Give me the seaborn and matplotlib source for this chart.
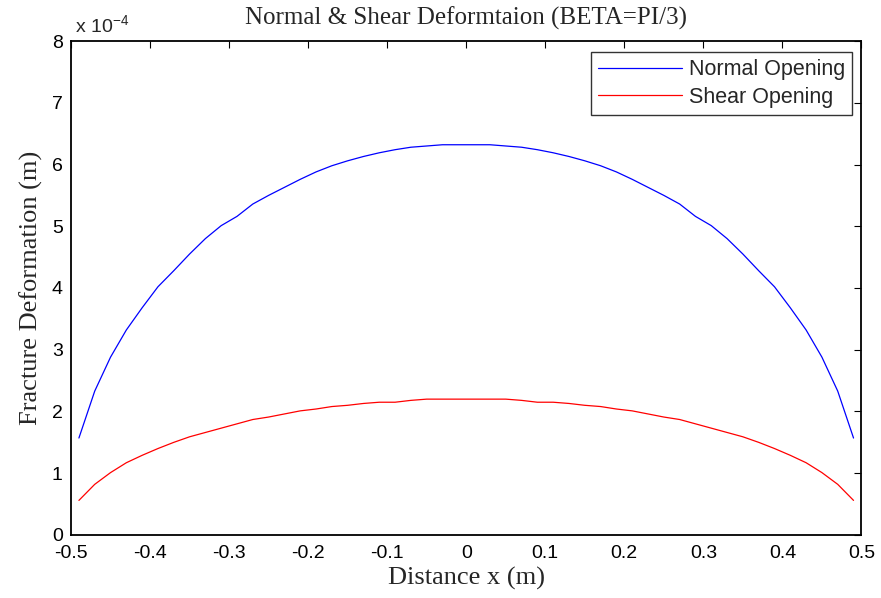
import matplotlib
matplotlib.use("Agg")
import matplotlib.pyplot as plt
import seaborn as sns
import pandas as pd

# element centres along the fracture (m)
distance = [
    -0.49, -0.47, -0.45, -0.43, -0.41, -0.39, -0.37, -0.35, -0.33, -0.31,
    -0.29, -0.27, -0.25, -0.23, -0.21, -0.19, -0.17, -0.15, -0.13, -0.11,
    -0.09, -0.07, -0.05, -0.03, -0.01, 0.01, 0.03, 0.05, 0.07, 0.09,
    0.11, 0.13, 0.15, 0.17, 0.19, 0.21, 0.23, 0.25, 0.27, 0.29,
    0.31, 0.33, 0.35, 0.37, 0.39, 0.41, 0.43, 0.45, 0.47, 0.49,
]

# openings in units of 1e-4 m
normal_opening = [
    1.57, 2.33, 2.88, 3.32, 3.68, 4.02, 4.28, 4.55, 4.80, 5.01,
    5.16, 5.36, 5.50, 5.63, 5.76, 5.88, 5.98, 6.06, 6.13, 6.19,
    6.24, 6.28, 6.30, 6.32, 6.32, 6.32, 6.32, 6.30, 6.28, 6.24,
    6.19, 6.13, 6.06, 5.98, 5.88, 5.76, 5.63, 5.50, 5.36, 5.16,
    5.01, 4.80, 4.55, 4.28, 4.02, 3.68, 3.32, 2.88, 2.33, 1.57,
]
shear_opening = [
    0.56, 0.82, 1.01, 1.17, 1.29, 1.40, 1.50, 1.59, 1.66, 1.73,
    1.80, 1.87, 1.91, 1.96, 2.01, 2.04, 2.08, 2.10, 2.13, 2.15,
    2.15, 2.18, 2.20, 2.20, 2.20, 2.20, 2.20, 2.20, 2.18, 2.15,
    2.15, 2.13, 2.10, 2.08, 2.04, 2.01, 1.96, 1.91, 1.87, 1.80,
    1.73, 1.66, 1.59, 1.50, 1.40, 1.29, 1.17, 1.01, 0.82, 0.56,
]

df = pd.DataFrame({
    "x": distance * 2,
    "opening": normal_opening + shear_opening,
    "series": ["Normal Opening"] * len(distance) + ["Shear Opening"] * len(distance),
})

sns.set_style("white")
plt.rcParams["font.family"] = ["Liberation Sans", "DejaVu Sans"]

fig = plt.figure(figsize=(8.81, 5.98), dpi=100)
ax = fig.add_axes([0.0806, 0.1054, 0.8972, 0.8260])
sns.lineplot(data=df, x="x", y="opening", hue="series",
             palette={"Normal Opening": "#0000ff", "Shear Opening": "#ff0000"},
             linewidth=0.9, ax=ax)

ax.set_xlim(-0.5, 0.5)
ax.set_ylim(0, 8)
ax.set_xticks([-0.5, -0.4, -0.3, -0.2, -0.1, 0, 0.1, 0.2, 0.3, 0.4, 0.5])
ax.set_xticklabels(["-0.5", "-0.4", "-0.3", "-0.2", "-0.1", "0", "0.1", "0.2", "0.3", "0.4", "0.5"])
ax.set_yticks(range(9))
ax.tick_params(direction="in", length=5, width=0.8, top=True, right=True,
               labelsize=14, colors="black")
ax.tick_params(axis="x", pad=7)
ax.tick_params(axis="y", pad=6)
for s in ax.spines.values():
    s.set_visible(True)
    s.set_color("black")
    s.set_linewidth(1.3)

serif = ["Liberation Serif", "DejaVu Serif"]
ax.set_title("Normal & Shear Deformtaion (BETA=PI/3)", fontsize=18, family=serif, pad=12)
ax.set_xlabel("Distance x (m)", fontsize=19, family=serif, labelpad=4)
ax.set_ylabel("Fracture Deformation (m)", fontsize=19, family=serif, labelpad=6)
ax.text(0.005, 1.008, r"x 10$^{\mathregular{-4}}$", transform=ax.transAxes,
        fontsize=14, ha="left", va="bottom")

leg = ax.legend(loc="upper right", fontsize=15.5, handlelength=3.9, handletextpad=0.3,
                frameon=True, fancybox=False, edgecolor="black", borderpad=0.35,
                labelspacing=0.3, borderaxespad=0.0, bbox_to_anchor=(0.9886, 0.978))
leg.get_frame().set_linewidth(1.0)
leg.set_title(None)

fig.savefig("out.png", dpi=100)
